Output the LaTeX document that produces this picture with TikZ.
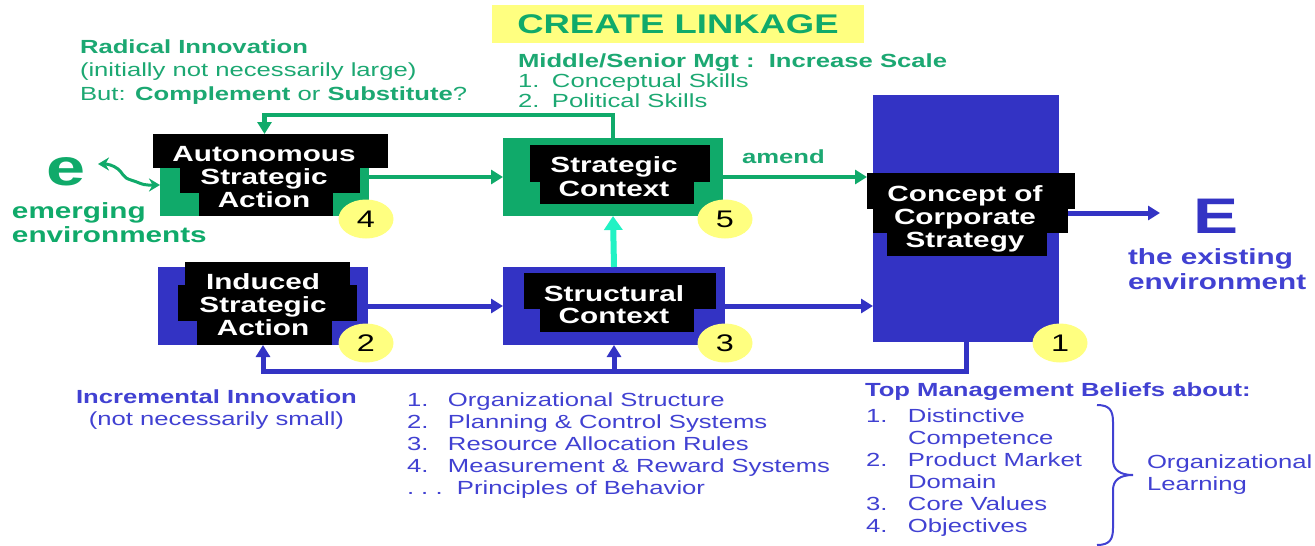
\documentclass[tikz,border=0pt]{standalone}
\usepackage{fontspec}
\setmainfont[FakeStretch=1.35]{Liberation Sans}
\usetikzlibrary{arrows.meta,shapes.geometric,decorations.pathreplacing,calc}
\definecolor{gr}{HTML}{10AA6A}
\definecolor{grt}{HTML}{1CA872}
\definecolor{bl}{HTML}{3333C4}
\definecolor{blt}{HTML}{4141D2}
\definecolor{yb}{HTML}{FFFF80}
\definecolor{cy}{HTML}{22F2C4}
\begin{document}
\begin{tikzpicture}[x=1pt,y=-1pt,
  every node/.style={inner sep=0pt, outer sep=0pt},
  gfill/.style={fill=gr},
  bfill/.style={fill=bl},
  blk/.style={fill=black},
  lbl/.style={text=white, font=\bfseries\fontsize{22}{23}\selectfont, align=center},
  num/.style={ellipse, fill=yb, minimum width=55pt, minimum height=39pt, font=\fontsize{24}{24}\selectfont},
  gtxt/.style={text=grt, anchor=base west, font=\fontsize{19}{23.5}\selectfont},
  btxt/.style={text=blt, anchor=base west, font=\fontsize{19}{22}\selectfont},
  garrow/.style={draw=gr, line width=4.5pt, -{Triangle[length=12pt,width=14pt]}},
  barrow/.style={draw=bl, line width=5pt, -{Triangle[length=12pt,width=14pt]}},
  carrow/.style={draw=cy, line width=6pt, -{Triangle[length=14pt,width=18pt]}},
]
\useasboundingbox[fill=white] (0,0) rectangle (1315,546);

% title
\node[fill=yb, minimum width=372pt, minimum height=38pt, text=gr,
      font=\bfseries\fontsize{27}{27}\selectfont] (title) at (678,24) {CREATE LINKAGE};

% Autonomous Strategic Action
\node[gfill, minimum width=209pt, minimum height=48pt] (autoR) at (264.5,192) {};
\node[blk, minimum width=235pt, minimum height=34pt] (autoT) at (270.5,151) {};
\node[blk, minimum width=180pt, minimum height=25pt] (autoM) at (270,180.5) {};
\node[blk, minimum width=134pt, minimum height=23pt] (autoB) at (266,204.5) {};
\node[lbl] (autoL) at (264,177) {Autonomous\\Strategic\\Action};
\node[num] (n4) at (366,219) {4};

% Strategic Context
\node[gfill, minimum width=220pt, minimum height=78pt] (stratR) at (613,177) {};
\node[blk, minimum width=180pt, minimum height=37pt] (stratT) at (620,163.5) {};
\node[blk, minimum width=154pt, minimum height=22pt] (stratB) at (617,193) {};
\node[lbl, font=\bfseries\fontsize{22}{24}\selectfont] (stratL) at (614,177) {Strategic\\Context};
\node[num] (n5) at (725,219) {5};

% Induced Strategic Action
\node[bfill, minimum width=210pt, minimum height=78pt] (indR) at (263,306) {};
\node[blk, minimum width=165pt, minimum height=23pt] (indT) at (267.5,273.5) {};
\node[blk, minimum width=179pt, minimum height=36pt] (indM) at (267.5,303) {};
\node[blk, minimum width=135pt, minimum height=24pt] (indB) at (264.5,333) {};
\node[lbl] (indL) at (263,305) {Induced\\Strategic\\Action};
\node[num] (n2) at (366,343) {2};

% Structural Context
\node[bfill, minimum width=222pt, minimum height=78pt] (strucR) at (614,306) {};
\node[blk, minimum width=192pt, minimum height=36pt] (strucT) at (620,291) {};
\node[blk, minimum width=154pt, minimum height=23pt] (strucB) at (617,320.5) {};
\node[lbl, font=\bfseries\fontsize{22}{22}\selectfont] (strucL) at (614,305) {Structural\\Context};
\node[num] (n3) at (725,343) {3};

% Concept of Corporate Strategy
\node[bfill, minimum width=186pt, minimum height=247pt] (concR) at (966,218.5) {};
\node[blk, minimum width=208pt, minimum height=36pt] (concT) at (971,191) {};
\node[blk, minimum width=195pt, minimum height=24pt] (concM) at (970.5,221) {};
\node[blk, minimum width=160pt, minimum height=23pt] (concB) at (967,244.5) {};
\node[lbl] (concL) at (965,219) {Concept of\\Corporate\\Strategy};
\node[num] (n1) at (1060,343) {1};

% environment labels
\node[text=gr, anchor=base west, font=\bfseries\fontsize{52}{52}\selectfont] (e) at (46,185) {e};
\node[text=gr, anchor=base west, font=\bfseries\fontsize{22}{24}\selectfont] (emerg) at (12,218)
  {\begin{tabular}[t]{@{}l@{}}emerging\\environments\end{tabular}};
\node[text=bl, anchor=base west, font=\bfseries\fontsize{50}{50}\selectfont] (E) at (1193,233) {E};
\node[text=blt, anchor=base west, font=\bfseries\fontsize{22}{25}\selectfont] (exist) at (1128,264)
  {\begin{tabular}[t]{@{}l@{}}the existing\\environment\end{tabular}};
\coordinate (Etip) at (1160,213);
\coordinate (etip) at (98,164);

% texts
\node[gtxt] (radical) at (80,53)
  {\begin{tabular}[t]{@{}l@{}}\bfseries Radical Innovation\\(initially not necessarily large)\\But: \textbf{Complement} or \textbf{Substitute}?\end{tabular}};
\node[gtxt, font=\fontsize{19}{20}\selectfont] (mgt) at (518,67)
  {\begin{tabular}[t]{@{}l@{}}\bfseries Middle/Senior Mgt :\ \ Increase Scale\\\makebox[34pt][l]{1.}Conceptual Skills\\\makebox[34pt][l]{2.}Political Skills\end{tabular}};
\node[gtxt, font=\bfseries\fontsize{19}{19}\selectfont] (amend) at (742,163) {amend};
\node[text=blt, anchor=base, font=\fontsize{19}{22}\selectfont] (incr) at (216.5,403)
  {\begin{tabular}[t]{@{}c@{}}\bfseries Incremental Innovation\\(not necessarily small)\end{tabular}};
\node[btxt] (slist) at (407,406)
  {\begin{tabular}[t]{@{}l@{}}\makebox[41pt][l]{1.}Organizational Structure\\
   \makebox[41pt][l]{2.}Planning \& Control Systems\\
   \makebox[41pt][l]{3.}Resource Allocation Rules\\
   \makebox[41pt][l]{4.}Measurement \& Reward Systems\\
   \makebox[50pt][l]{.\ .\ .}Principles of Behavior\end{tabular}};
\node[btxt, font=\bfseries\fontsize{19}{22}\selectfont] (tmb) at (865,396) {Top Management Beliefs about:};
\node[btxt] (tlist) at (866,422)
  {\begin{tabular}[t]{@{}l@{}}\makebox[42pt][l]{1.}Distinctive\\
   \makebox[42pt][l]{}Competence\\
   \makebox[42pt][l]{2.}Product Market\\
   \makebox[42pt][l]{}Domain\\
   \makebox[42pt][l]{3.}Core Values\\
   \makebox[42pt][l]{4.}Objectives\end{tabular}};
\node[btxt] (orgl) at (1147,468)
  {\begin{tabular}[t]{@{}l@{}}Organizational\\Learning\end{tabular}};
\draw[blt, line width=2pt]
  (1097,405) .. controls (1110,405) and (1113,411) .. (1113,422)
  -- (1113,460) .. controls (1113,470) and (1120,475) .. (1133,475)
  .. controls (1120,475) and (1113,480) .. (1113,490)
  -- (1113,528) .. controls (1113,539) and (1110,545) .. (1097,545);

% connectors
\path ([yshift=15pt]autoR.east) coordinate (a1);
\draw[garrow] (a1) -- (a1 -| stratR.west);
\draw[garrow] (stratR.east) -- (stratR.east -| concT.west);
\draw[garrow] (stratR.north) -- ++(0,-23) -| (autoR.north |- autoT.north);
\draw[carrow] (strucR.north) -- (stratR.south);
\draw[barrow] (indR.east) -- (strucR.west);
\draw[barrow] (strucR.east) -- (strucR.east -| concR.west);
\draw[barrow] ([yshift=8pt]concM.east) -- (Etip);
\draw[barrow] (concR.south) -- ++(0,29) coordinate (fb) -| (indR.south);
\draw[barrow] (strucR.south |- fb) -- (strucR.south);
\draw[draw=gr, line width=3pt, {Stealth[length=11pt,width=13pt]}-{Stealth[length=11pt,width=13pt]}]
  (etip) .. controls (107,164) and (113,165) .. (118,169)
  .. controls (123,173) and (123,178) .. (131,180)
  .. controls (138,182) and (142,185) .. (148,185)
  -- ([yshift=7pt]autoR.west);
\end{tikzpicture}
\end{document}
